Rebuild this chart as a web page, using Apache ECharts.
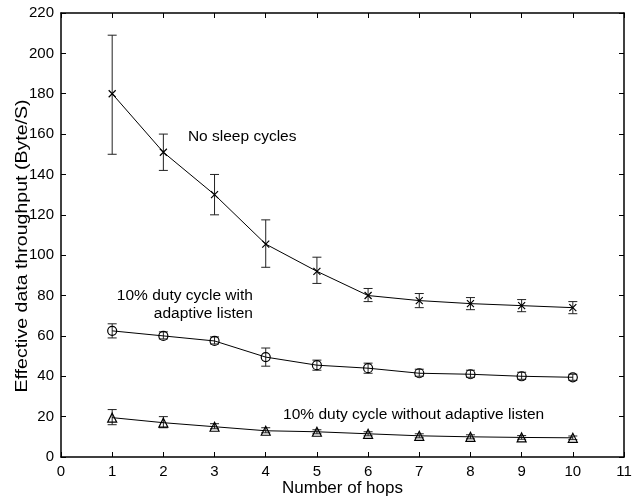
<!DOCTYPE html>
<html lang="en">
	<head>
		<meta charset="UTF-8" />
		<title>Throughput vs hops</title>
		<style>
			* {
				box-sizing: border-box;
				margin: 0;
				padding: 0;
			}

			.container {
				width: 641px;
				height: 498px;
				background-color: #fff;
			}
		</style>
	</head>
	<body>
		<div class="container" id="chart"></div>
		<script src="https://cdn.jsdelivr.net/npm/echarts@6/dist/echarts.min.js"></script>
		<script>
			// 数据
			const hops = [1, 2, 3, 4, 5, 6, 7, 8, 9, 10]
			const noSleep = [180, 151, 130, 105.5, 92, 80, 77.5, 76, 75, 74]
			const noSleepLow = [150, 142, 120, 94, 86, 77, 74, 73, 72, 71]
			const noSleepHigh = [209, 160, 140, 117.5, 99, 83.5, 81, 79, 78, 77]
			const adaptive = [62.5, 60, 57.5, 49.5, 45.5, 44, 41.5, 41, 40, 39.5]
			const adaptiveLow = [59, 58.5, 56, 45, 43, 41.5, 40, 39.5, 38.5, 38]
			const adaptiveHigh = [66, 62, 59.5, 54, 48, 46.5, 43.5, 43, 42, 41]
			const noAdaptive = [19.5, 17, 15, 13, 12.5, 11.5, 10.5, 10, 9.7, 9.5]
			const noAdaptiveLow = [16, 14.5, 14, 12, 11.5, 10.5, 9.5, 9, 8.8, 8.6]
			const noAdaptiveHigh = [23.5, 20, 16.5, 14.5, 13.5, 12.5, 11.5, 11, 10.6, 10.4]

			const font = 'Liberation Sans, Arial, sans-serif'

			const zip = (a, b) => a.map((v, i) => [v, b[i]])
			const zip3 = (a, lo, hi) => a.map((v, i) => [v, lo[i], hi[i]])

			// 误差线
			function errorBars(x, lo, hi) {
				return {
					type: 'custom',
					z: 1,
					silent: true,
					renderItem(params, api) {
						const top = api.coord([api.value(0), api.value(2)])
						const bot = api.coord([api.value(0), api.value(1)])
						const w = 4.5
						const style = { stroke: '#222', lineWidth: 1 }
						return {
							type: 'group',
							children: [
								{ type: 'line', shape: { x1: top[0], y1: top[1], x2: bot[0], y2: bot[1] }, style },
								{ type: 'line', shape: { x1: top[0] - w, y1: top[1], x2: top[0] + w, y2: top[1] }, style },
								{ type: 'line', shape: { x1: bot[0] - w, y1: bot[1], x2: bot[0] + w, y2: bot[1] }, style }
							]
						}
					},
					encode: { x: 0, y: [1, 2] },
					data: zip3(x, lo, hi)
				}
			}

			function lineSeries(y, symbol, size) {
				return {
					type: 'line',
					z: 2,
					data: zip(hops, y),
					symbol: symbol,
					symbolSize: size,
					showAllSymbol: true,
					lineStyle: { color: '#000', width: 1 },
					itemStyle: { color: 'transparent', borderColor: '#000', borderWidth: 1.2 },
					emphasis: { disabled: true },
					silent: true
				}
			}

			const axisLine = () => ({ show: true, onZero: false, lineStyle: { color: '#000', width: 1.5 } })
			const axisTick = () => ({ show: true, inside: true, length: 5, lineStyle: { color: '#000', width: 1 } })
			const axisLabel = () => ({ color: '#000', fontSize: 15, fontFamily: font, margin: 7 })

			const chart = echarts.init(document.getElementById('chart'))
			chart.setOption({
				animation: false,
				grid: { left: 61, right: 17, top: 13, bottom: 41, outerBoundsMode: 'none', containLabel: false },
				xAxis: [{
						type: 'value',
						min: 0,
						max: 11,
						interval: 1,
						axisLine: axisLine(),
						axisTick: axisTick(),
						axisLabel: axisLabel(),
						splitLine: { show: false }
					},
					{
						type: 'value',
						position: 'top',
						min: 0,
						max: 11,
						interval: 1,
						axisLine: axisLine(),
						axisTick: axisTick(),
						axisLabel: { show: false },
						splitLine: { show: false }
					}
				],
				yAxis: [{
						type: 'value',
						min: 0,
						max: 220,
						interval: 20,
						axisLine: axisLine(),
						axisTick: axisTick(),
						axisLabel: axisLabel(),
						splitLine: { show: false }
					},
					{
						type: 'value',
						position: 'right',
						min: 0,
						max: 220,
						interval: 20,
						axisLine: axisLine(),
						axisTick: axisTick(),
						axisLabel: { show: false },
						splitLine: { show: false }
					}
				],
				series: [
					errorBars(hops, noSleepLow, noSleepHigh),
					errorBars(hops, adaptiveLow, adaptiveHigh),
					errorBars(hops, noAdaptiveLow, noAdaptiveHigh),
					lineSeries(noSleep, 'path://M0,0L10,10M10,0L0,10', 7),
					lineSeries(adaptive, 'circle', 9),
					lineSeries(noAdaptive, 'triangle', 9),
					// 空系列, 让顶部和右侧坐标轴显示
					{ type: 'line', xAxisIndex: 1, yAxisIndex: 1, data: [], silent: true }
				]
			})

			// 注释文字 (data coordinates)
			const notes = [
				{ x: 3.54, y: 158.6, text: 'No sleep cycles', align: 'center' },
				{ x: 3.75, y: 79.8, text: '10% duty cycle with', align: 'right' },
				{ x: 3.75, y: 70.9, text: 'adaptive listen', align: 'right' },
				{ x: 6.89, y: 20.8, text: '10% duty cycle without adaptive listen', align: 'center' }
			]
			const grid = chart.getModel().getComponent('grid').coordinateSystem.getRect()
			chart.setOption({
				graphic: notes.map(n => {
					const p = chart.convertToPixel({ gridIndex: 0 }, [n.x, n.y])
					return {
						type: 'text',
						x: p[0],
						y: p[1],
						silent: true,
						style: {
							text: n.text,
							fill: '#000',
							font: '15.5px ' + font,
							textAlign: n.align,
							textVerticalAlign: 'middle'
						}
					}
				}).concat([{
					// 横轴标题
					type: 'text',
					x: grid.x + grid.width / 2,
					y: 488,
					silent: true,
					style: {
						text: 'Number of hops',
						fill: '#000',
						font: '17px ' + font,
						textAlign: 'center',
						textVerticalAlign: 'middle'
					}
				}, {
					// 纵轴标题, 原图略有拉伸
					type: 'text',
					x: 22,
					y: 246,
					rotation: Math.PI / 2,
					scaleX: 1.15,
					silent: true,
					style: {
						text: 'Effective data throughput (Byte/S)',
						fill: '#000',
						font: '17px ' + font,
						textAlign: 'center',
						textVerticalAlign: 'middle'
					}
				}])
			})
		</script>
	</body>
</html>
